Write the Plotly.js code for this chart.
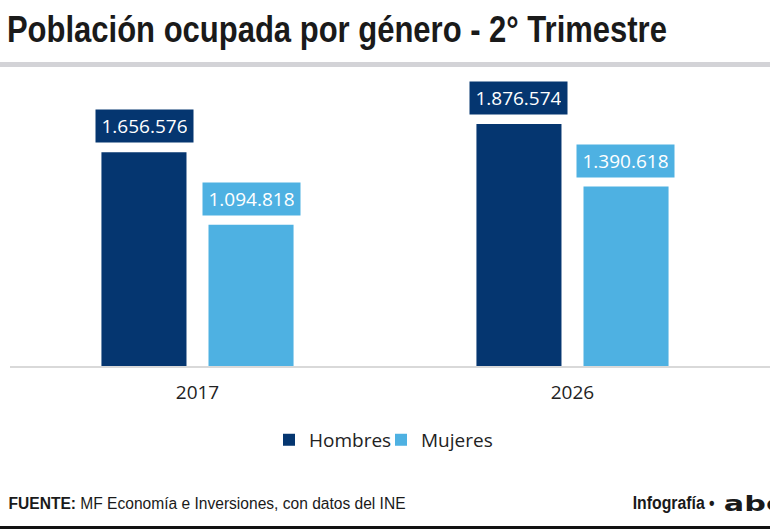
<!DOCTYPE html>
<html>
<head>
<meta charset="utf-8">
<script src="https://cdn.plot.ly/plotly-3.0.1.min.js"></script>
<style>
  html, body { margin: 0; padding: 0; background: #fff; }
  #chart { width: 770px; height: 529px; }
</style>
</head>
<body>
<div id="chart"></div>
<script>
const years = ['2017', '2026'];
const hombres = [1656576, 1876574];
const mujeres = [1094818, 1390618];
const seriesNames = ['Hombres', 'Mujeres'];
const colors = ['#053670', '#4eb1e2'];

// formato paraguayo: punto como separador de miles
function fmt(v) {
    return v.toString().replace(/\B(?=(\d{3})+(?!\d))/g, '.');
}

const sans = '"Liberation Sans", Arial, sans-serif';
const body = '"Open Sans", "Noto Sans", sans-serif';

// cada serie en su propia leyenda para acercar las entradas como en el original
const traces = [hombres, mujeres].map((vals, i) => ({
    type: 'bar',
    name: seriesNames[i],
    x: years,
    y: vals,
    legend: i === 0 ? 'legend' : 'legend2',
    marker: { color: colors[i], line: { width: 0 } },
    hoverinfo: 'skip'
}));

// etiquetas con fondo sobre cada barra
const labels = [];
[hombres, mujeres].forEach((vals, i) => {
    vals.forEach((v, j) => {
        labels.push({
            x: j, y: v, xref: 'x', yref: 'y',
            xshift: i === 0 ? -53.5 : 53.5,
            yshift: 9,
            yanchor: 'bottom',
            text: fmt(v),
            showarrow: false,
            bgcolor: colors[i],
            borderpad: 6,
            width: 85,
            height: 20,
            font: { family: body, size: 19, color: '#fff' }
        });
    });
});

// pie de la infografía (indices 4, 5, 6)
labels.push({
    xref: 'paper', yref: 'paper', x: (206.5 - 10) / 760, y: -0.471,
    xanchor: 'center', yanchor: 'middle', showarrow: false,
    text: '<b>FUENTE:</b> MF Economía e Inversiones, con datos del INE',
    font: { family: sans, size: 16, color: '#1a1a1a' }
});
labels.push({
    xref: 'paper', yref: 'paper', x: (673 - 10) / 760, y: -0.471,
    xanchor: 'center', yanchor: 'middle', showarrow: false,
    text: 'Infografía •',
    font: { family: sans, size: 18, weight: 'bold', color: '#1a1a1a' }
});
labels.push({
    xref: 'paper', yref: 'paper', x: (754 - 10) / 760, y: -0.471,
    xanchor: 'center', yanchor: 'middle', showarrow: false,
    text: 'abc',
    font: { family: '"DejaVu Sans", sans-serif', size: 22, weight: 'bold', color: '#1a1a1a' }
});

const legendBase = {
    orientation: 'h',
    xanchor: 'left',
    y: -0.254, yanchor: 'middle',
    bgcolor: 'rgba(0,0,0,0)',
    font: { family: body, size: 19, color: '#222' },
    itemclick: false,
    itemdoubleclick: false
};

const layout = {
    width: 770,
    height: 529,
    margin: { l: 10, r: 0, t: 75, b: 163 },
    paper_bgcolor: '#fff',
    plot_bgcolor: '#fff',
    title: {
        text: 'Población ocupada por género - 2° Trimestre',
        xref: 'container', yref: 'container',
        x: 0.009, xanchor: 'left',
        y: 1 - 29 / 529, yanchor: 'middle',
        font: { family: sans, size: 36, weight: 'bold', color: '#1a1a1a' }
    },
    barmode: 'group',
    bargap: 0.429,
    bargroupgap: 0.2056,
    xaxis: {
        type: 'category',
        range: [-0.5, 1.5267],
        showline: true,
        linecolor: '#d9d9d9',
        linewidth: 2,
        ticks: '',
        showgrid: false,
        tickfont: { family: body, size: 19, color: '#222' },
        ticklabelstandoff: 8,
        fixedrange: true
    },
    yaxis: {
        range: [0, 2255800],
        visible: false,
        showgrid: false,
        zeroline: false,
        fixedrange: true
    },
    showlegend: true,
    legend: Object.assign({}, legendBase, { x: (283 - 14 - 10) / 760 }),
    legend2: Object.assign({}, legendBase, { x: (395 - 14 - 10) / 760 }),
    shapes: [
        {
            type: 'line', xref: 'paper', yref: 'paper',
            x0: -10 / 760, x1: 1, y0: 1.036, y1: 1.036,
            line: { color: '#d3d3d7', width: 5 }
        },
        {
            type: 'line', xref: 'paper', yref: 'paper',
            x0: -10 / 760, x1: 1, y0: -0.555, y1: -0.555,
            line: { color: '#111', width: 3 }
        }
    ],
    annotations: labels
};

// la fuente original es condensada: se comprime el texto a su ancho
function squeeze(el, w) {
    if (!el) return;
    el.setAttribute('textLength', w);
    el.setAttribute('lengthAdjust', 'spacingAndGlyphs');
}

const gd = document.getElementById('chart');
Plotly.newPlot(gd, traces, layout, { displayModeBar: false, staticPlot: true }).then(function () {
    squeeze(gd.querySelector('.gtitle'), 660);
    squeeze(gd.querySelector('.annotation[data-index="4"] text'), 397);
    squeeze(gd.querySelector('.annotation[data-index="5"] text'), 82);
    squeeze(gd.querySelector('.annotation[data-index="6"] text'), 60);
});
</script>
</body>
</html>
